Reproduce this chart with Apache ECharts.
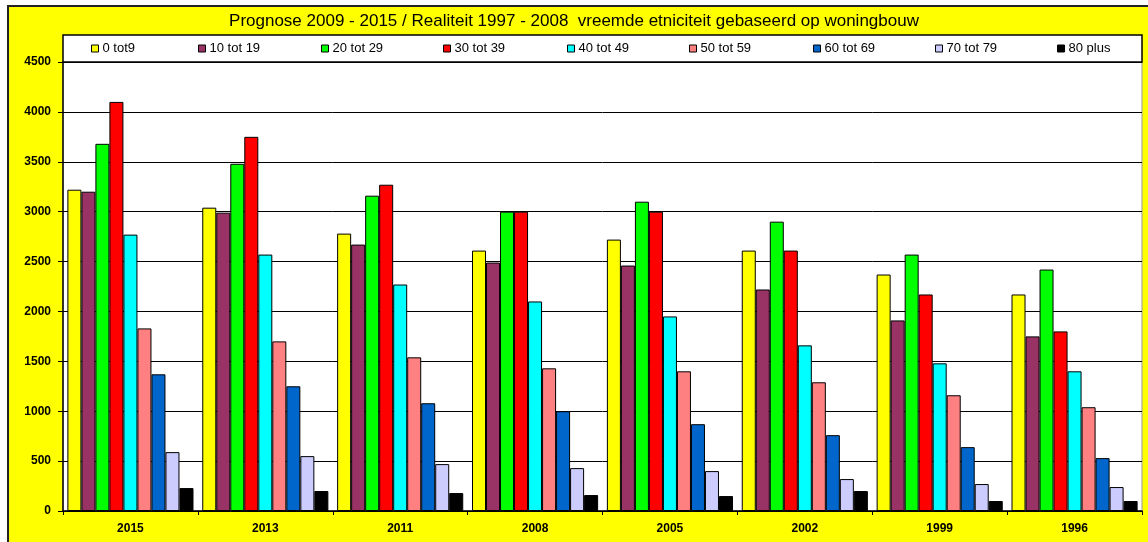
<!DOCTYPE html>
<html>
<head>
<meta charset="utf-8">
<script src="https://cdn.jsdelivr.net/npm/echarts@6/dist/echarts.min.js"></script>
<style>
  html, body { margin: 0; padding: 0; width: 1148px; height: 542px; overflow: hidden; background: #fff; }
  #frame { position: absolute; left: 7px; top: 5px; width: 1200px; height: 600px; background: #FFFF00; border: 2px solid #222; }
  #chart { position: absolute; left: 0; top: 0; width: 1148px; height: 542px; }
</style>
</head>
<body>
<div id="frame"></div>
<div id="chart"></div>
<script>
const titleText = 'Prognose 2009 - 2015 / Realiteit 1997 - 2008  vreemde etniciteit gebaseerd op woningbouw';
const categories = ['2015', '2013', '2011', '2008', '2005', '2002', '1999', '1996'];
const seriesNames = ['0 tot9', '10 tot 19', '20 tot 29', '30 tot 39', '40 tot 49', '50 tot 59', '60 tot 69', '70 tot 79', '80 plus'];
const colors = ['#FFFF00', '#993366', '#00FF00', '#FF0000', '#00FFFF', '#FF8080', '#0066CC', '#CCCCFF', '#000000'];

const age0_9   = [3220, 3040, 2780, 2610, 2720, 2610, 2370, 2170];
const age10_19 = [3200, 2990, 2670, 2490, 2460, 2220, 1910, 1750];
const age20_29 = [3680, 3480, 3160, 3000, 3100, 2900, 2570, 2420];
const age30_39 = [4100, 3750, 3270, 3000, 3000, 2610, 2170, 1800];
const age40_49 = [2770, 2570, 2270, 2100, 1950, 1660, 1480, 1400];
const age50_59 = [1830, 1700, 1540, 1430, 1400, 1290, 1160, 1040];
const age60_69 = [1370, 1250, 1080, 1000, 870, 760, 640, 530];
const age70_79 = [590, 550, 470, 430, 400, 320, 270, 240];
const age80plus = [230, 200, 180, 160, 150, 200, 100, 100];

const allData = [age0_9, age10_19, age20_29, age30_39, age40_49, age50_59, age60_69, age70_79, age80plus];
const yTicks = { min: 0, max: 4500, interval: 500 };

// layout: left edge of each legend item
const legendLeft = [91, 198, 321, 443, 567, 689, 813, 935, 1057];

const chart = echarts.init(document.getElementById('chart'), null, { renderer: 'canvas' });

const series = seriesNames.map((name, i) => ({
  name: name,
  type: 'bar',
  data: allData[i],
  barGap: '0%',
  barCategoryGap: '6.5%',
  itemStyle: { color: colors[i], borderColor: '#000', borderWidth: 1 },
  emphasis: { disabled: true },
  animation: false
}));

const legends = seriesNames.map((name, i) => ({
  data: [name],
  left: legendLeft[i],
  top: 42,
  padding: 0,
  itemWidth: 7,
  itemHeight: 7,
  icon: 'rect',
  itemStyle: { borderColor: '#000', borderWidth: 1 },
  textStyle: { fontSize: 13, color: '#000', padding: [0, 0, 0, -1] },
  selectedMode: false
}));

chart.setOption({
  animation: false,
  backgroundColor: 'transparent',
  textStyle: { fontFamily: 'Liberation Sans, Arial, sans-serif' },
  title: {
    text: titleText,
    left: 'center',
    top: 8,
    textStyle: { fontSize: 17, fontWeight: 'normal', color: '#000', fontFamily: 'Liberation Sans, Arial, sans-serif' }
  },
  graphic: [{
    type: 'rect',
    z: 0,
    shape: { x: 63, y: 35, width: 1079, height: 27 },
    style: { fill: '#fff', stroke: '#000', lineWidth: 1.5 }
  }],
  legend: legends,
  grid: {
    left: 63, right: 6, top: 62, bottom: 31,
    show: true, backgroundColor: '#fff', borderColor: '#999', borderWidth: 1
  },
  xAxis: {
    type: 'category',
    data: categories,
    axisLine: { lineStyle: { color: '#000', width: 1.5 } },
    axisTick: { show: true, length: 4, lineStyle: { color: '#000' } },
    axisLabel: { fontSize: 12, fontWeight: 'bold', color: '#000', margin: 12 }
  },
  yAxis: {
    type: 'value',
    min: yTicks.min, max: yTicks.max, interval: yTicks.interval,
    axisLine: { show: true, lineStyle: { color: '#000', width: 1.5 } },
    axisTick: { show: true, length: 5, lineStyle: { color: '#000' } },
    axisLabel: { fontSize: 12, fontWeight: 'bold', color: '#000', margin: 12, formatter: (v) => String(v) },
    splitLine: { show: true, lineStyle: { color: '#000', width: 1 } }
  },
  series: series
});
</script>
</body>
</html>
